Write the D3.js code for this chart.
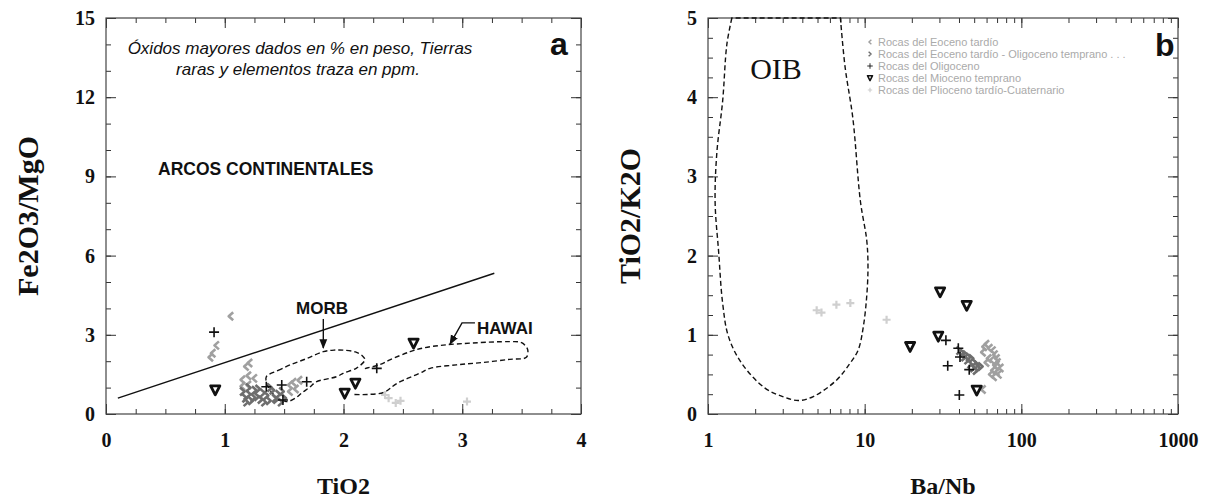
<!DOCTYPE html>
<html><head><meta charset="utf-8">
<script src="https://cdn.jsdelivr.net/npm/d3@7"></script>
<style>body{margin:0;background:#fff} svg{display:block}</style>
</head><body><svg id="c" width="1213" height="498"></svg>
<script>
// ---------- tick labels ----------
const aXTicks = [0, 1, 2, 3, 4];
const aYTicks = [0, 3, 6, 9, 12, 15];
const bXTicks = [1, 10, 100, 1000];
const bYTicks = [0, 1, 2, 3, 4, 5];

// ---------- legend ----------
const seriesNames = [
  "Rocas del Eoceno tardío",
  "Rocas del Eoceno tardío - Oligoceno temprano . . .",
  "Rocas del Oligoceno",
  "Rocas del Mioceno temprano",
  "Rocas del Plioceno tardío-Cuaternario"
];
const seriesKeys = ["eoc", "eocOli", "oli", "mio", "plio"];

// ---------- panel a: TiO2 vs Fe2O3/MgO ----------
const aEoc = [[1.05,3.7],[0.93,2.6],[0.9,2.3],[0.88,2.15],[1.21,1.93],[1.18,1.8],[1.15,1.3],[1.2,1.45],
  [1.25,1.35],[1.55,1.1],[1.58,1.2],[1.63,1.28],[1.6,0.95],[1.55,0.85],[1.2,1.1],[1.15,1.05]];
const aEocOli = [[1.15,0.85],[1.17,0.6],[1.2,0.75],[1.22,0.5],[1.25,0.9],[1.27,0.65],[1.3,0.55],[1.32,0.8],
  [1.35,0.7],[1.37,0.5],[1.4,0.9],[1.42,0.6],[1.45,0.75],[1.47,0.45],[1.5,0.6],[1.2,1.0],[1.28,0.95],
  [1.38,1.0],[1.43,0.55],[1.33,0.45],[1.18,0.45],[1.24,0.62],[1.48,0.85]];
const aOli = [[0.91,3.1],[1.35,1.03],[1.48,1.10],[1.69,1.22],[2.28,1.73],[1.49,0.53]];
const aMio = [[0.92,0.91],[2.01,0.78],[2.10,1.16],[2.59,2.68]];
const aPlio = [[2.35,0.72],[2.38,0.6],[2.44,0.42],[2.48,0.5],[3.04,0.47]];
const aDivider = [[0.1,0.6],[3.27,5.33]];
const aMorbField = [[1.35,1.41],[1.45,1.65],[1.55,1.86],[1.69,2.10],[1.83,2.36],[1.92,2.42],[2.0,2.42],
  [2.1,2.35],[2.16,2.2],[2.18,2.05],[2.11,1.74],[2.0,1.55],[1.94,1.41],[1.77,1.22],[1.72,1.03],
  [1.65,0.8],[1.6,0.62],[1.52,0.47],[1.42,0.7],[1.36,1.1]];
const aHawaiField = [[2.18,1.72],[2.31,1.88],[2.39,2.05],[2.56,2.36],[2.67,2.5],[2.84,2.61],[3.09,2.69],
  [3.40,2.74],[3.5,2.7],[3.55,2.45],[3.54,2.15],[3.40,2.07],[3.17,1.95],[2.95,1.86],[2.73,1.73],
  [2.64,1.54],[2.45,1.16],[2.34,0.82],[2.2,0.74],[2.07,0.74]];
const aMorbArrow = [[1.83,3.6],[1.83,2.5]];
const aHawaiLeader = [[3.107,3.45],[2.998,3.45],[2.897,2.65]];

// ---------- panel b: Ba/Nb vs TiO2/K2O ----------
const bEoc = [[58,0.85],[60,0.88],[63,0.83],[66,0.8],[68,0.75],[70,0.7],[71,0.65],[69,0.6],[66,0.55],
  [64,0.5],[67,0.47],[72,0.5],[60,0.65],[62,0.7],[65,0.68],[68,0.62],[57,0.78],[74,0.58],[70,0.53],[57,0.31]];
const bEocOli = [[40,0.8],[42,0.77],[44,0.75],[46,0.72],[45,0.68],[48,0.7],[50,0.65],[47,0.63],[52,0.62],
  [49,0.58],[53,0.58],[55,0.6],[51,0.55],[43,0.72]];
const bOli = [[33.0,0.93],[39.6,0.83],[40.6,0.72],[33.9,0.61],[46.5,0.56],[40.2,0.24]];
const bMio = [[30.3,1.54],[44.8,1.37],[29.5,0.98],[19.5,0.85],[51.9,0.30]];
const bPlio = [[4.94,1.31],[5.3,1.28],[6.6,1.38],[8.1,1.40],[13.8,1.19]];
const bOibField = [[1.42,5.0],[1.32,4.67],[1.24,3.95],[1.14,3.31],[1.11,2.68],[1.17,2.04],[1.24,1.40],
  [1.35,0.98],[1.64,0.64],[2.3,0.33],[3.0,0.22],[3.77,0.17],[4.70,0.22],[6.63,0.43],[8.06,0.64],
  [9.10,0.81],[9.80,1.10],[10.3,1.48],[10.5,1.86],[10.3,2.20],[9.4,2.68],[8.4,3.74],[7.5,4.38],[7.0,5.0]];

// ---------- styles ----------
const style = {
  eoc:    {color:"#a0a0a0"},
  eocOli: {color:"#6e6e6e"},
  oli:    {color:"#111"},
  mio:    {color:"#111"},
  plio:   {color:"#cfcfcf"}
};
const symPath = {
  eoc: "M2.5,-4 L-2,0 L2.5,4",
  eocOli: "M-2.5,-4 L2,0 L-2.5,4",
  oli: "M-5,0 H5 M0,-5 V5",
  mio: "M-4.6,-4.2 H4.6 L0,4.8 Z",
  plio: "M-4,0 H4 M0,-4 V4"
};

const svg = d3.select("#c");
const serif = "'Liberation Serif','Times New Roman',serif";
const sans = "'Liberation Sans',Arial,sans-serif";

function drawSym(g, key, x, y, scale) {
  const s = style[key];
  const p = g.append("path").attr("d", symPath[key])
    .attr("transform", `translate(${x},${y}) scale(${scale||1})`);
  if (key === "mio") p.attr("fill", "#fff").attr("stroke", s.color).attr("stroke-width", 2.8).attr("stroke-linejoin","round");
  else if (key === "oli") p.attr("fill", "none").attr("stroke", s.color).attr("stroke-width", 1.6);
  else if (key === "plio") p.attr("fill", "none").attr("stroke", s.color).attr("stroke-width", 2.2);
  else p.attr("fill", "none").attr("stroke", s.color).attr("stroke-width", 2.6).attr("stroke-linejoin","round");
}

function frame(x, y, xMajor, xMinor, yMajor, yMinor, xFmt) {
  const g = svg.append("g");
  const [x0, x1] = x.range(), [y0, y1] = y.range();
  const clean = s => { s.select(".domain").remove(); s.selectAll("line").attr("stroke", "#333"); };
  const lbl = s => s.selectAll("text").attr("font-family", serif).attr("font-weight", "bold")
      .attr("font-size", 20).attr("fill", "#111");
  g.append("g").attr("transform", `translate(0,${y0})`)
    .call(d3.axisBottom(x).tickValues(xMinor).tickSize(-5).tickFormat("")).call(clean);
  g.append("g").attr("transform", `translate(0,${y0})`)
    .call(d3.axisBottom(x).tickValues(xMajor).tickSize(-10).tickPadding(19).tickFormat(xFmt)).call(clean).call(lbl);
  g.append("g").attr("transform", `translate(0,${y1})`)
    .call(d3.axisTop(x).tickValues(xMinor).tickSize(-5).tickFormat("")).call(clean);
  g.append("g").attr("transform", `translate(0,${y1})`)
    .call(d3.axisTop(x).tickValues(xMajor).tickSize(-10).tickFormat("")).call(clean);
  g.append("g").attr("transform", `translate(${x0},0)`)
    .call(d3.axisLeft(y).tickValues(yMinor).tickSize(-5).tickFormat("")).call(clean);
  g.append("g").attr("transform", `translate(${x0},0)`)
    .call(d3.axisLeft(y).tickValues(yMajor).tickSize(-10).tickPadding(11).tickFormat(d3.format("d"))).call(clean).call(lbl);
  g.append("g").attr("transform", `translate(${x1},0)`)
    .call(d3.axisRight(y).tickValues(yMinor).tickSize(-5).tickFormat("")).call(clean);
  g.append("g").attr("transform", `translate(${x1},0)`)
    .call(d3.axisRight(y).tickValues(yMajor).tickSize(-10).tickFormat("")).call(clean);
  g.append("rect").attr("x", x0).attr("y", y1).attr("width", x1 - x0).attr("height", y0 - y1)
    .attr("fill", "none").attr("stroke", "#444").attr("stroke-width", 1.2);
}

function titles(x, y, xt, yt, yX) {
  const [x0, x1] = x.range(), [y0, y1] = y.range();
  svg.append("text").attr("x", (x0 + x1) / 2).attr("y", 494).attr("text-anchor", "middle")
    .attr("font-family", serif).attr("font-weight", "bold").attr("font-size", 24).attr("fill", "#111").text(xt);
  svg.append("text").attr("transform", `translate(${yX},${(y0 + y1) / 2}) rotate(-90)`)
    .attr("text-anchor", "middle").attr("font-family", serif).attr("font-weight", "bold")
    .attr("font-size", 30).attr("fill", "#111").text(yt);
}

// defs: arrowheads
const defs = svg.append("defs");
defs.append("marker").attr("id", "arr").attr("viewBox", "0 0 10 10").attr("refX", 9).attr("refY", 5)
  .attr("markerWidth", 7).attr("markerHeight", 7).attr("orient", "auto-start-reverse")
  .append("path").attr("d", "M0,1 L10,5 L0,9 Z").attr("fill", "#111");

// ===== Panel a =====
const xa = d3.scaleLinear().domain([0, 4]).range([106, 581]);
const ya = d3.scaleLinear().domain([0, 15]).range([414, 18]);
frame(xa, ya, aXTicks, d3.range(0, 4.001, 0.25), aYTicks, d3.range(0, 15.001, 1), d3.format("d"));
titles(xa, ya, "TiO2", "Fe2O3/MgO", 38);

const ga = svg.append("g");
const lineA = d3.line().x(d => xa(d[0])).y(d => ya(d[1]));
ga.append("path").attr("d", lineA(aDivider)).attr("stroke", "#111").attr("stroke-width", 1.4).attr("fill", "none");
ga.append("path").attr("d", d3.line().x(d => xa(d[0])).y(d => ya(d[1])).curve(d3.curveCatmullRomClosed)(aMorbField))
  .attr("stroke", "#111").attr("stroke-width", 1.4).attr("stroke-dasharray", "5,3").attr("fill", "none");
ga.append("path").attr("d", d3.line().x(d => xa(d[0])).y(d => ya(d[1])).curve(d3.curveCatmullRom)(aHawaiField))
  .attr("stroke", "#111").attr("stroke-width", 1.4).attr("stroke-dasharray", "5,3").attr("fill", "none");
ga.append("path").attr("d", lineA(aMorbArrow))
  .attr("stroke", "#111").attr("stroke-width", 1.4).attr("fill", "none").attr("marker-end", "url(#arr)");
ga.append("path").attr("d", lineA(aHawaiLeader))
  .attr("stroke", "#111").attr("stroke-width", 1.4).attr("fill", "none").attr("marker-end", "url(#arr)");

const aSets = {eoc: aEoc, eocOli: aEocOli, plio: aPlio, oli: aOli, mio: aMio};
["eoc", "eocOli", "plio", "oli", "mio"].forEach(k => aSets[k].forEach(d => drawSym(ga, k, xa(d[0]), ya(d[1]))));

const tA = (x, y, s, opts) => {
  const t = ga.append("text").attr("x", x).attr("y", y).attr("font-family", sans).attr("fill", "#111").text(s);
  Object.entries(opts).forEach(([k, v]) => t.attr(k, v));
  return t;
};
tA(300, 54, "Óxidos mayores dados en % en peso, Tierras", {"font-size": 17, "font-style": "italic", "text-anchor": "middle"});
tA(298, 75, "raras y elementos traza en ppm.", {"font-size": 17, "font-style": "italic", "text-anchor": "middle"});
tA(550, 55, "a", {"font-size": 32, "font-weight": "bold"});
tA(158, 175, "ARCOS CONTINENTALES", {"font-size": 17.5, "font-weight": "bold"});
tA(322, 314, "MORB", {"font-size": 17, "font-weight": "bold", "text-anchor": "middle"});
tA(477, 334, "HAWAI", {"font-size": 17, "font-weight": "bold"});

// ===== Panel b =====
const xb = d3.scaleLog().domain([1, 1000]).range([708, 1178]);
const yb = d3.scaleLinear().domain([0, 5]).range([414, 18]);
frame(xb, yb, bXTicks, xb.ticks(), bYTicks, d3.range(0, 5.001, 0.25), d3.format("d"));
titles(xb, yb, "Ba/Nb", "TiO2/K2O", 640);

const gb = svg.append("g");
gb.append("path").attr("d", d3.line().x(d => xb(d[0])).y(d => yb(d[1])).curve(d3.curveCatmullRom)(bOibField) + "Z")
  .attr("stroke", "#111").attr("stroke-width", 1.4).attr("stroke-dasharray", "5,3").attr("fill", "none");
const bSets = {eoc: bEoc, eocOli: bEocOli, plio: bPlio, oli: bOli, mio: bMio};
["plio", "eoc", "eocOli", "oli", "mio"].forEach(k => bSets[k].forEach(d => drawSym(gb, k, xb(d[0]), yb(d[1]))));

gb.append("text").attr("x", 776).attr("y", 79).attr("text-anchor", "middle").attr("font-family", serif)
  .attr("font-size", 30).attr("fill", "#111").text("OIB");
gb.append("text").attr("x", 1155).attr("y", 56).attr("font-family", sans).attr("font-weight", "bold")
  .attr("font-size", 32).attr("fill", "#111").text("b");

// legend
const lg = gb.append("g");
seriesKeys.forEach((k, i) => {
  const y = 42 + i * 12;
  drawSym(lg, k, 870, y, 0.55);
  lg.append("text").attr("x", 878).attr("y", y + 4).attr("font-family", sans).attr("font-size", 11)
    .attr("fill", "#aaa").text(seriesNames[i]);
});
</script></body></html>
